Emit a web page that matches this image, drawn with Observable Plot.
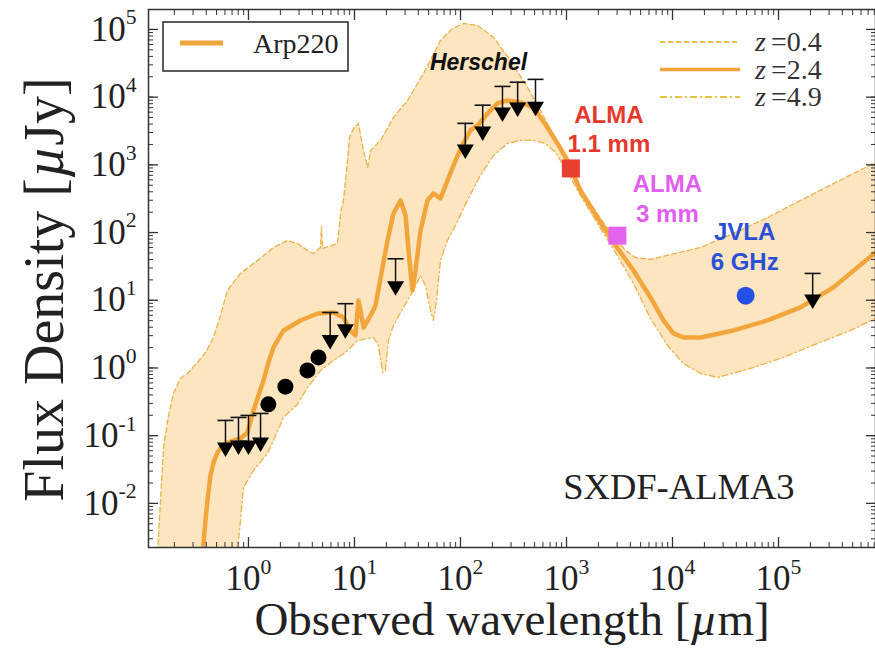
<!DOCTYPE html>
<html><head><meta charset="utf-8">
<script src="https://cdn.jsdelivr.net/npm/d3@7"></script>
<script src="https://cdn.jsdelivr.net/npm/@observablehq/plot@0.6"></script>
<style>
body{margin:0;background:#fff;}
#chart{position:relative;width:875px;height:648px;}
</style></head><body><div id="chart"></div>
<script>
// ---- Arp220 template at z=2.4 (solid line) ----
const mainLam = [0.37,0.393,0.41,0.438,0.468,0.51,0.569,0.676,0.84,0.978,1.115,1.243,1.385,1.544,1.721,2.14,3.09,4.48,6.34,7.87,9.17,10.2,10.9,12.2,14.2,15.8,17.6,20.5,23.3,27.2,30.3,33.0,35.2,37.6,42.0,48.8,55.6,64.8,75.4,89.7,104,124,145,180,223,277,368,488,662,822,1021,1355,2093,2775,4285,6197,8222,10210,12700,18370,37600,78700,161400,330000,822000];
const mainFlux = [0.0019,0.00559,0.011,0.0258,0.0402,0.0565,0.0716,0.082,0.091,0.111,0.236,0.393,0.653,1.21,2.01,3.58,5.03,6.38,6.61,5.57,3.58,3.02,9.93,3.96,5.97,8.38,21.0,76.4,191,298,179,38.7,14.0,27.5,107,298,378,319,589,1161,1936,3221,3820,5741,8072,8933,8350,7047,3565,2070,1161,419,141,71.4,27.5,11.0,5.03,3.24,2.82,2.82,3.58,5.03,7.83,15.5,50.8];
// ---- z=0.4 (dashed, upper envelope) ----
const z04Lam = [0.1386,0.148,0.158,0.176,0.196,0.228,0.266,0.33,0.393,0.468,0.544,0.634,0.84,1.216,1.72,2.33,2.9,3.6,4.1,4.78,4.88,4.99,6.92,7.38,7.87,8.41,8.97,9.79,10.9,11.9,13.3,14.2,15.1,17.6,23.3,31.6,44.8,64.8,84.1,107,145,205,296,429,569,754,979,1355,2093,2775,3603,4477,6197,9570,18370,37600,78700,161400,330000,822000];
const z04Flux = [0.0019,0.011,0.067,0.199,0.42,0.70,0.83,1.21,1.69,2.82,5.97,14.0,24.9,38.7,60.2,76.4,69.0,54.4,49.1,60.2,123,58.2,69.0,191,298,826,2541,3451,4092,1936,916,1633,1807,2291,5012,8933,22390,68860,103500,122700,114600,76300,34830,13900,6370,2716,1245,448,161,87.5,54.4,42.8,40.1,47.5,60.2,97.0,167,298,531,1084];
// ---- z=4.9 (dash-dot, lower envelope) ----
const z49Lam = [0.787,0.84,0.897,1.115,1.51,1.72,2.14,2.9,3.6,4.78,6.34,8.22,10.7,15.1,16.8,18.4,19.6,20.9,23.3,29.0,36.0,42.0,46.7,52.1,55.6,59.4,64.8,75.4,89.7,116,154,205,277,368,488,634,787,979,1355,2093,2900,4285,6197,8970,12700,18370,26600,54400,111400,233000,477000,822000];
const z49Flux = [0.0019,0.00559,0.0172,0.0306,0.0546,0.0849,0.186,0.289,0.515,0.918,1.29,1.69,2.55,2.82,2.15,0.859,0.918,2.55,4.25,7.83,14.0,23.2,16.5,7.06,5.03,9.93,38.7,76.4,127,298,697,1377,2070,2291,2291,2070,1524,885,353,115,50.8,17.7,5.38,2.15,1.16,0.83,0.724,0.984,1.43,2.30,3.58,5.38];

// ---- photometry ----
const ulLam  = [0.607,0.805,1.0,1.30,5.9,8.2,24.4,111,162,249,346,510,210000];
const ulTip  = [0.0647,0.0692,0.0692,0.0767,2.5,3.6,15.5,1633,3000,5750,6800,7000,9.9];
const ulCap  = [0.168,0.186,0.199,0.213,6.6,8.9,41,4100,7600,14400,16600,18300,24.9];
const detLam  = [1.54,2.23,3.6,4.57];
const detFlux = [0.29,0.53,0.92,1.43];
const almaLam  = [1100, 3020];
const almaFlux = [885, 90];
const almaColor = ["#e8402e", "#e463ec"];
const almaText = ["ALMA\n1.1 mm", "ALMA\n3 mm"];
const jvlaLam = [49000], jvlaFlux = [11.7];
const jvlaText = ["JVLA\n6 GHz"];
const herschelLam = [249];

const xDomain = [0.114, 822000];
const yDomain = [0.00223, 197000];
const xMajor = [1, 10, 100, 1e3, 1e4, 1e5];
const yMajor = [1e-2, 1e-1, 1, 10, 100, 1e3, 1e4, 1e5];

const serif = "'Liberation Serif','Times New Roman',Times,serif";
const sans = "'Liberation Sans',Arial,Helvetica,sans-serif";
const ORANGE = "#f2a53a", EDGE = "#e9b24c", FILL = "#fde5c0";

const toPts = (L, F) => L.map((x, i) => ({x, y: F[i]}));
const mainPts = toPts(mainLam, mainFlux);
const upPts = toPts(z04Lam, z04Flux);
const loPts = toPts(z49Lam, z49Flux);
const band = upPts.concat(loPts.slice().reverse());
const ul = ulLam.map((x, i) => ({x, tip: ulTip[i], cap: ulCap[i]}));
const det = toPts(detLam, detFlux);
const alma = almaLam.map((x, i) => ({x, y: almaFlux[i], c: almaColor[i], t: almaText[i]}));
const jvla = jvlaLam.map((x, i) => ({x, y: jvlaFlux[i], t: jvlaText[i]}));

const capSym = {draw(ctx) { ctx.moveTo(-8, 0); ctx.lineTo(8, 0); }};
const triSym = {draw(ctx) { ctx.moveTo(-8.5, -6); ctx.lineTo(8.5, -6); ctx.lineTo(0, 8.5); ctx.closePath(); }};
const sqSym = {draw(ctx) { ctx.rect(-9, -9, 18, 18); }};
const sup = d => "10^" + Math.round(Math.log10(d));
const ax = {label: null, stroke: "#333"};

const chart = Plot.plot({
  width: 875, height: 648,
  marginLeft: 148, marginRight: 0, marginTop: 9, marginBottom: 101,
  style: {background: "#fff", color: "#333"},
  x: {type: "log", domain: xDomain, label: null},
  y: {type: "log", domain: yDomain, label: null},
  marks: [
    Plot.line(band, {x: "x", y: "y", fill: FILL, stroke: "none", clip: true}),
    Plot.line(upPts, {x: "x", y: "y", stroke: EDGE, strokeWidth: 1.3, strokeDasharray: "5,3", clip: true}),
    Plot.line(loPts, {x: "x", y: "y", stroke: EDGE, strokeWidth: 1.3, strokeDasharray: "6,3,1.5,3", clip: true}),
    Plot.line(mainPts, {x: "x", y: "y", stroke: ORANGE, strokeWidth: 4.5, strokeLinejoin: "round", clip: true}),
    Plot.ruleX(ul, {x: "x", y1: "cap", y2: "tip", stroke: "#111", strokeWidth: 1.5}),
    Plot.dot(ul, {x: "x", y: "cap", symbol: capSym, stroke: "#111", strokeWidth: 1.6, fill: "none"}),
    Plot.dot(ul, {x: "x", y: "tip", symbol: triSym, fill: "#000", stroke: "none"}),
    Plot.dot(det, {x: "x", y: "y", r: 8, fill: "#000", stroke: "none"}),
    Plot.dot(alma, {x: "x", y: "y", symbol: sqSym, fill: "c", stroke: "none"}),
    Plot.dot(jvla, {x: "x", y: "y", r: 9, fill: "#2350e6", stroke: "none"}),
    Plot.text([alma[0]], {x: "x", y: "y", text: "t", dx: 38, dy: -40, fill: "#e4392c", fontSize: 24, fontWeight: "bold", fontFamily: sans, lineHeight: 1.2}),
    Plot.text([alma[1]], {x: "x", y: "y", text: "t", dx: 50, dy: -38, fill: "#e060ee", fontSize: 24, fontWeight: "bold", fontFamily: sans, lineHeight: 1.25}),
    Plot.text(jvla, {x: "x", y: "y", text: "t", dx: -1, dy: -50, fill: "#2b50d8", fontSize: 24, fontWeight: "bold", fontFamily: sans, lineHeight: 1.25}),
    Plot.text(herschelLam, {x: d => d, frameAnchor: "top", text: () => "Herschel", dx: -24, dy: 44, fontSize: 23, fontWeight: "bold", fontStyle: "italic", fontFamily: sans, fill: "#111"}),
    Plot.text(["SXDF-ALMA3"], {frameAnchor: "bottom-right", text: d => d, textAnchor: "end", dx: -81, dy: -49, fontSize: 36.5, fontFamily: serif, fill: "#222"}),
    // axes: minor ticks (all sides), major ticks, labels
    Plot.axisX({...ax, anchor: "bottom", ticks: 100, tickSize: -5, tickFormat: () => ""}),
    Plot.axisX({...ax, anchor: "top", ticks: 100, tickSize: -5, tickFormat: () => ""}),
    Plot.axisY({...ax, anchor: "left", ticks: 100, tickSize: -5, tickFormat: () => ""}),
    Plot.axisY({...ax, anchor: "right", ticks: 100, tickSize: -5, tickFormat: () => ""}),
    Plot.axisX(xMajor, {...ax, anchor: "bottom", tickSize: -10, tickFormat: () => "", strokeWidth: 1.3}),
    Plot.axisX(xMajor, {...ax, anchor: "top", tickSize: -10, tickFormat: () => "", strokeWidth: 1.3}),
    Plot.axisY(yMajor, {...ax, anchor: "left", tickSize: -10, tickFormat: () => "", strokeWidth: 1.3}),
    Plot.axisY(yMajor, {...ax, anchor: "right", tickSize: -10, tickFormat: () => "", strokeWidth: 1.3}),
    Plot.axisX(xMajor, {anchor: "bottom", tickSize: 0, tickPadding: 18, tickFormat: sup, fontSize: 35, fontFamily: serif, fill: "#222", label: null}),
    Plot.axisY(yMajor, {anchor: "left", tickSize: 0, tickPadding: 12, tickFormat: sup, fontSize: 35, fontFamily: serif, fill: "#222", label: null}),
    Plot.text(["Observed wavelength [µm]"], {frameAnchor: "bottom", text: d => d, dy: 87, fontSize: 47, fontFamily: serif, fill: "#222"}),
    Plot.text(["Flux Density [µJy]"], {frameAnchor: "left", text: d => d, textAnchor: "middle", rotate: -90, dx: -103, dy: 11, fontSize: 56, fontFamily: serif, fill: "#222"}),
    Plot.frame({stroke: "#333", strokeWidth: 1.5})
  ]
});
document.getElementById("chart").append(chart);

// superscript tick labels
const NS = "http://www.w3.org/2000/svg";
chart.querySelectorAll('g[aria-label$="tick label"] text').forEach(t => {
  const s = t.textContent;
  if (!s.includes("^")) return;
  const [b, e] = s.split("^");
  t.textContent = "";
  const t1 = document.createElementNS(NS, "tspan"); t1.textContent = b;
  const t2 = document.createElementNS(NS, "tspan"); t2.textContent = e;
  t2.setAttribute("font-size", "0.62em"); t2.setAttribute("dy", "-0.75em");
  t.append(t1, t2);
});
// italic mu
chart.querySelectorAll("text").forEach(t => {
  const s = t.textContent;
  if (!s.includes("µ") || t.children.length) return;
  const i = s.indexOf("µ");
  t.textContent = "";
  const a = document.createElementNS(NS, "tspan"); a.textContent = s.slice(0, i);
  const m = document.createElementNS(NS, "tspan"); m.textContent = "µ"; m.setAttribute("font-style", "italic");
  const c = document.createElementNS(NS, "tspan"); c.textContent = s.slice(i + 1);
  t.append(a, m, c);
});

// legends
const svg = d3.select(chart);
const lg = svg.append("g").attr("text-anchor", "start");
lg.append("rect").attr("x", 163).attr("y", 22).attr("width", 185).attr("height", 49)
  .attr("fill", "#fff").attr("stroke", "#333").attr("stroke-width", 1.6);
lg.append("line").attr("x1", 180).attr("x2", 223).attr("y1", 43).attr("y2", 43)
  .attr("stroke", ORANGE).attr("stroke-width", 5);
lg.append("text").attr("x", 253).attr("y", 53).attr("font-family", serif).attr("font-size", 28)
  .attr("text-anchor", "start").attr("fill", "#222").text("Arp220");
const zl = [["0.4", "5,3", 1.8, "#e6c23c"], ["2.4", null, 3.5, ORANGE], ["4.9", "7,3,2,3", 1.8, "#e3c246"]];
zl.forEach(([z, dash, w, col], i) => {
  const y = 42 + i * 27.5;
  const ln = lg.append("line").attr("x1", 660).attr("x2", 740).attr("y1", y).attr("y2", y)
    .attr("stroke", col).attr("stroke-width", w);
  if (dash) ln.attr("stroke-dasharray", dash);
  const tx = lg.append("text").attr("x", 755).attr("y", y + 9).attr("font-family", serif)
    .attr("font-size", 28).attr("text-anchor", "start").attr("fill", "#333");
  tx.append("tspan").attr("font-style", "italic").text("z");
  tx.append("tspan").attr("dx", 5).text("=" + z);
});
</script></body></html>
